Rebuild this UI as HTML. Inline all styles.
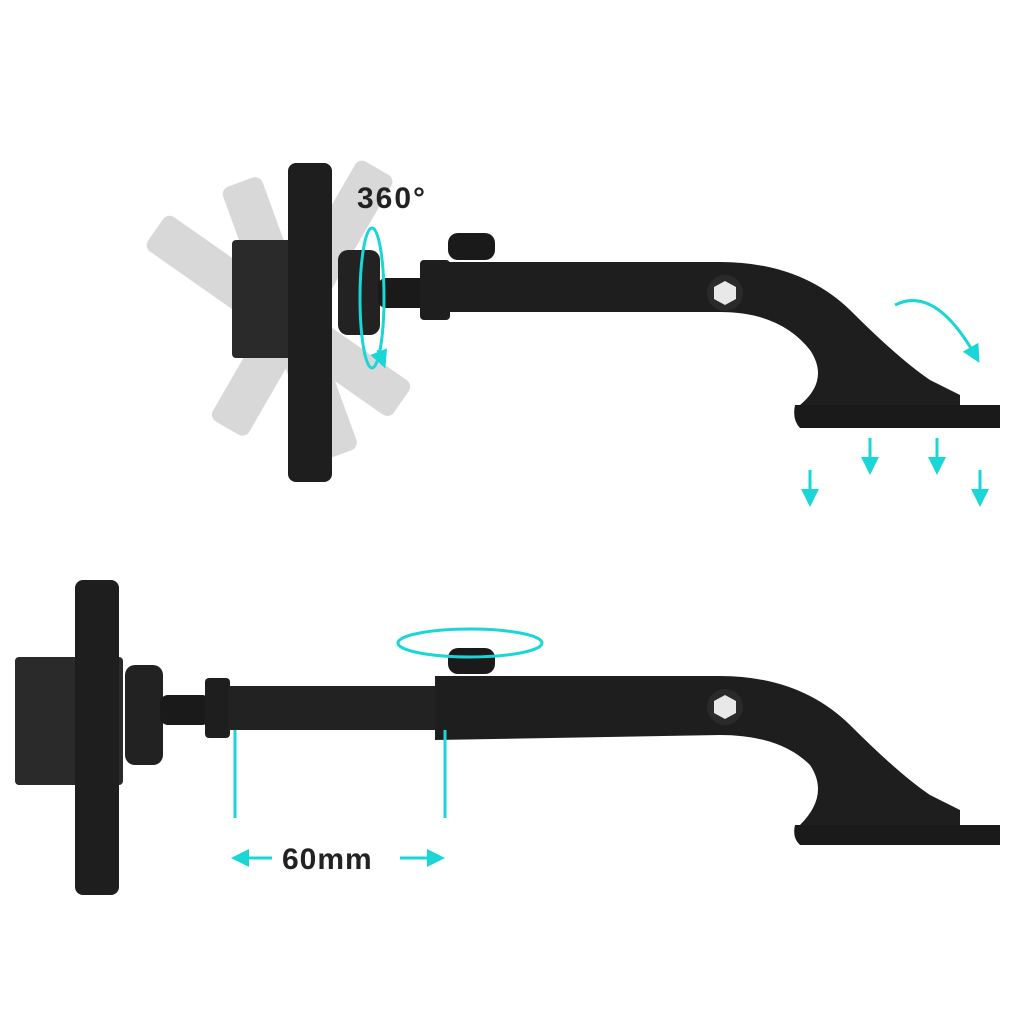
<!DOCTYPE html>
<html><head><meta charset="utf-8"><style>
html,body{margin:0;padding:0;background:#fff;width:1024px;height:1024px;overflow:hidden}
svg{display:block}
text{font-family:"Liberation Sans",sans-serif;font-weight:bold}
</style></head><body>
<svg width="1024" height="1024" viewBox="0 0 1024 1024">
<defs>
<marker id="ah" markerWidth="6" markerHeight="6" refX="3" refY="3" orient="auto"><path d="M0,0 L6,3 L0,6 z" fill="#1ad6d6"/></marker>
</defs>
<!-- TOP: ghost plates -->
<g fill="#d2d2d2" opacity="0.85">
<rect x="270" y="150" width="42" height="300" rx="8" transform="rotate(-55 300 320)"/>
<rect x="270" y="150" width="42" height="300" rx="8" transform="rotate(30 300 320)"/>
<rect x="270" y="170" width="42" height="290" rx="8" transform="rotate(-20 300 320)"/>
</g>
<rect x="232" y="240" width="72" height="118" rx="4" fill="#2a2a2a"/>
<rect x="288" y="163" width="44" height="319" rx="8" fill="#1e1e1e"/>
<rect x="338" y="250" width="42" height="85" rx="10" fill="#222"/>
<rect x="378" y="278" width="50" height="30" rx="8" fill="#1a1a1a"/>
<rect x="420" y="260" width="30" height="60" rx="4" fill="#1e1e1e"/>
<rect x="448" y="233" width="47" height="27" rx="10" fill="#1a1a1a"/>
<path d="M440,262 L720,262 Q800,262 850,310 Q900,360 930,380 L960,395 L960,405 L800,405 Q830,380 810,350 Q780,312 720,312 L440,312 Z" fill="#1e1e1e"/>
<path d="M795,405 L1000,405 L1000,428 L800,428 Q792,420 795,405 Z" fill="#1a1a1a"/>
<circle cx="725" cy="293" r="18" fill="#2a2a2a"/>
<polygon points="714,287 725,281 736,287 736,299 725,305 714,299" fill="#e8e8e8"/>
<text x="357" y="208" font-size="30" fill="#222" letter-spacing="2">360°</text>
<g stroke="#1ad6d6" stroke-width="3" fill="none">
<ellipse cx="372" cy="298" rx="12" ry="70" />
<path d="M378,350 L382,360" marker-end="url(#ah)"/>
<path d="M895,305 Q935,285 975,355" marker-end="url(#ah)"/>
<line x1="810" y1="470" x2="810" y2="498" marker-end="url(#ah)"/>
<line x1="870" y1="438" x2="870" y2="466" marker-end="url(#ah)"/>
<line x1="937" y1="438" x2="937" y2="466" marker-end="url(#ah)"/>
<line x1="980" y1="470" x2="980" y2="498" marker-end="url(#ah)"/>
</g>
<!-- BOTTOM -->
<rect x="15" y="657" width="108" height="128" rx="4" fill="#2a2a2a"/>
<rect x="75" y="580" width="44" height="315" rx="8" fill="#1e1e1e"/>
<rect x="125" y="665" width="38" height="100" rx="10" fill="#222"/>
<rect x="160" y="695" width="50" height="30" rx="8" fill="#1a1a1a"/>
<rect x="205" y="678" width="25" height="60" rx="4" fill="#1e1e1e"/>
<rect x="228" y="686" width="215" height="44" fill="#222"/>
<rect x="448" y="648" width="47" height="26" rx="10" fill="#1a1a1a"/>
<path d="M435,676 L720,676 Q800,676 850,725 Q900,775 930,795 L960,810 L960,825 L800,825 Q830,795 810,765 Q780,735 720,735 L435,740 Z" fill="#1e1e1e"/>
<path d="M795,825 L1000,825 L1000,845 L800,845 Q792,838 795,825 Z" fill="#1a1a1a"/>
<circle cx="725" cy="707" r="18" fill="#2a2a2a"/>
<polygon points="714,701 725,695 736,701 736,713 725,719 714,713" fill="#e8e8e8"/>
<g stroke="#1ad6d6" stroke-width="3" fill="none">
<ellipse cx="470" cy="643" rx="72" ry="14"/>
<line x1="235" y1="730" x2="235" y2="818"/>
<line x1="445" y1="730" x2="445" y2="818"/>
<line x1="272" y1="858" x2="240" y2="858" marker-end="url(#ah)"/>
<line x1="400" y1="858" x2="436" y2="858" marker-end="url(#ah)"/>
</g>
<text x="282" y="869" font-size="30" fill="#222" letter-spacing="1">60mm</text>
</svg>
</body></html>
